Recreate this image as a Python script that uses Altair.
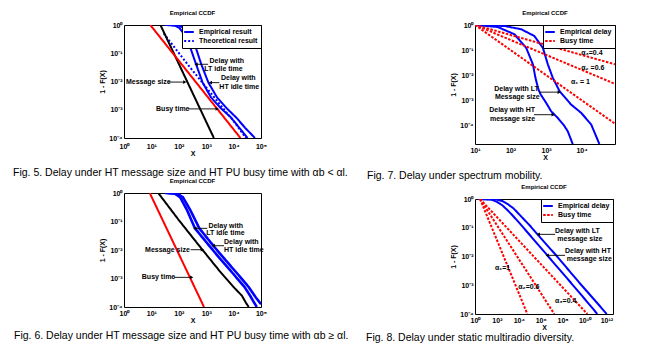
import altair as alt
import pandas as pd

FONT = "Liberation Sans"
BLUE, RED, BLACK = "#0000ff", "#ff0000", "#000000"
SOLID, DOTTED = [1, 0], [2.5, 1.5]

# ---------------- Fig. 5 (values are log10 of X and of 1-F(X)) ----------------
f5_lt_x = [1.50, 1.85, 2.02, 2.25, 2.42, 2.63, 2.87, 3.18, 3.54, 3.91, 4.21, 4.51]
f5_lt_y = [0.0, -0.02, -0.10, -0.40, -0.80, -1.39, -2.04, -2.57, -2.95, -3.28, -3.64, -4.0]
f5_ht_x = [1.65, 2.00, 2.20, 2.45, 2.62, 2.82, 3.08, 3.40, 3.75, 4.10, 4.42, 4.78]
f5_ht_y = [0.0, -0.02, -0.12, -0.45, -0.80, -1.39, -2.04, -2.57, -2.95, -3.28, -3.64, -4.0]
f5_th_x = [1.45, 2.32, 2.81, 3.30, 3.60, 4.00, 4.45]
f5_th_y = [-0.30, -1.39, -1.98, -2.57, -2.93, -3.40, -4.0]
f5_msg_x = [1.33, 3.28]
f5_msg_y = [0.0, -4.0]
f5_busy_x = [0.96, 4.25]
f5_busy_y = [0.0, -4.0]

# ---------------- Fig. 7 ----------------
f7_ht_x = [1.0, 1.64, 2.11, 2.44, 2.63, 2.70, 2.78, 2.85, 3.00, 3.14, 3.33, 3.50, 3.61, 3.75]
f7_ht_y = [0.0, -0.08, -0.37, -0.91, -1.57, -2.10, -2.55, -2.78, -3.10, -3.44, -3.71, -4.0, -4.24, -4.75]
f7_lt_x = [1.0, 1.83, 2.30, 2.67, 2.91, 3.05, 3.19, 3.38, 3.70, 3.99, 4.27, 4.50]
f7_lt_y = [0.0, -0.04, -0.17, -0.44, -0.91, -1.57, -2.11, -2.64, -3.17, -3.51, -3.97, -4.75]
f7_busy_x = [1.0, 4.94]
f7_a04_y = [0.0, -1.57]
f7_a06_y = [0.0, -2.35]
f7_a1_y = [0.0, -3.94]

# ---------------- Fig. 6 ----------------
f6_busy_x = [0.94, 2.92]
f6_busy_y = [0.0, -4.0]
f6_msg_x = [1.25, 2.00, 2.86, 3.50, 4.00, 4.30, 4.45, 4.55]
f6_msg_y = [0.0, -0.95, -1.99, -2.75, -3.30, -3.60, -3.85, -4.0]
f6_lt_x = [1.50, 1.85, 2.05, 2.30, 2.59, 3.00, 3.50, 4.00, 4.40, 4.60, 4.75, 4.85]
f6_lt_y = [0.0, -0.02, -0.15, -0.60, -1.24, -1.72, -2.30, -2.85, -3.30, -3.60, -3.85, -4.0]
f6_ht_x = [1.60, 1.95, 2.15, 2.42, 2.75, 3.26, 3.70, 4.20, 4.55, 4.80, 5.00]
f6_ht_y = [0.0, -0.02, -0.15, -0.60, -1.24, -1.85, -2.35, -2.90, -3.30, -3.65, -3.90]

# ---------------- Fig. 8 ----------------
f8_ht_x = [0.3, 1.5, 2.0, 2.5, 3.0, 3.5, 4.2, 5.02, 6.6, 8.5, 10.0, 11.17]
f8_ht_y = [0.0, -0.02, -0.10, -0.22, -0.40, -0.60, -0.90, -1.26, -1.96, -2.80, -3.47, -4.0]
f8_lt_x = [0.3, 2.0, 2.5, 3.0, 3.5, 4.2, 5.0, 5.78, 7.5, 9.5, 11.0, 12.03]
f8_lt_y = [0.0, -0.02, -0.07, -0.18, -0.32, -0.60, -0.92, -1.26, -2.00, -2.90, -3.55, -4.0]
f8_a1_x = [0.46, 4.78]
f8_a06_x = [0.46, 7.24]
f8_a04_x = [0.46, 10.26]
f8_busy_y = [0.0, -4.0]

SUP = {"0": "⁰", "1": "¹", "2": "²", "3": "³", "4": "⁴", "5": "⁵",
       "6": "⁶", "7": "⁷", "8": "⁸", "9": "⁹", "-": "⁻"}


def tick_label(e):
    return "10" + "".join(SUP[c] for c in str(e))


def p10(vals):
    return [10.0 ** v for v in vals]


def curve_df(xe, ye, cid, series=""):
    return pd.DataFrame({"x": p10(xe), "y": p10(ye), "id": cid,
                         "series": series, "ord": list(range(len(xe)))})


def label_expr(ticks):
    lo, hi = min(ticks), max(ticks)
    arr = ",".join("'" + tick_label(e) + "'" for e in range(lo, hi + 1))
    return "[" + arr + "][round(log(datum.value)/LN10) - (" + str(lo) + ")]"


def make_panel(w, h, xdom, ydom, xt, yt, legend_curves, legend_names, legend_colors,
               legend_dashes, plain_curves, texts, arrows, caption, cap_x, cap_y, xlabpad):
    xs = alt.Scale(type="log", domain=p10(xdom), nice=False)
    ys = alt.Scale(type="log", domain=p10(ydom), nice=False)
    common = dict(labelFont=FONT, labelFontSize=7, labelFontWeight="bold", labelColor=BLACK,
                  titleFont=FONT, titleFontSize=7, titleFontWeight="bold", titleColor=BLACK,
                  ticks=False, tickSize=0, domain=False, grid=False, labelFlush=False,
                  labelOverlap=False)
    xaxis = alt.Axis(values=p10(xt), labelExpr=label_expr(xt), title="X", titlePadding=0,
                     labelPadding=xlabpad, **common)
    yaxis = alt.Axis(values=p10(yt), labelExpr=label_expr(yt), title="1 - F(X)",
                     titlePadding=3, labelPadding=2, **common)

    def X(f="x"):
        return alt.X(f, type="quantitative", scale=xs, axis=xaxis)

    def Y(f="y"):
        return alt.Y(f, type="quantitative", scale=ys, axis=yaxis)

    layers = []
    if legend_curves:
        df = pd.concat([curve_df(*c) for c in legend_curves], ignore_index=True)
        leg = alt.Legend(title=None, orient="top-right", offset=0, strokeColor=BLACK,
                         fillColor="white", padding=3, labelFont=FONT, labelFontSize=7,
                         labelFontWeight="bold", labelColor=BLACK,
                         symbolType="M-1.6,0H1.6", symbolSize=36, symbolStrokeWidth=2,
                         rowPadding=1, labelOffset=6, cornerRadius=0)
        layers.append(
            alt.Chart(df).mark_line(strokeWidth=2, clip=True).encode(
                x=X(), y=Y(),
                color=alt.Color("series:N", scale=alt.Scale(domain=legend_names, range=legend_colors), legend=leg),
                strokeDash=alt.StrokeDash("series:N", scale=alt.Scale(domain=legend_names, range=legend_dashes), legend=leg),
                detail="id:N", order="ord:Q")
        )
    for (xe, ye, cid, col, dash, sw) in plain_curves:
        layers.append(
            alt.Chart(curve_df(xe, ye, cid)).mark_line(strokeWidth=sw, clip=True, color=col,
                                                       strokeDash=dash).encode(
                x=X(), y=Y(), order="ord:Q")
        )
    tdf = pd.DataFrame({"x": p10([t[1] for t in texts]), "y": p10([t[2] for t in texts]),
                        "t": [t[0] for t in texts]})
    layers.append(
        alt.Chart(tdf).mark_text(align="left", baseline="middle", font=FONT, fontSize=7,
                                 fontWeight="bold", color=BLACK).encode(x=X(), y=Y(), text="t:N")
    )
    adf = pd.DataFrame({"x": p10([a[0] for a in arrows]), "xe": p10([a[1] for a in arrows]),
                        "y": p10([a[2] for a in arrows]),
                        "shape": ["triangle-left" if a[1] < a[0] else "triangle-right" for a in arrows]})
    layers.append(
        alt.Chart(adf).mark_rule(color=BLACK, strokeWidth=0.9).encode(x=X(), x2="xe:Q", y=Y())
    )
    layers.append(
        alt.Chart(adf).mark_point(filled=True, size=14, color=BLACK, opacity=1).encode(
            x=X("xe"), y=Y(), shape=alt.Shape("shape:N", scale=None))
    )
    layers.append(
        alt.Chart(pd.DataFrame({"t": [caption]})).mark_text(
            align="left", baseline="middle", font=FONT, fontSize=10.5, color=BLACK).encode(
            text="t:N", x=alt.value(cap_x), y=alt.value(cap_y))
    )
    return alt.layer(*layers).properties(
        width=w, height=h,
        title=alt.TitleParams("Empirical CCDF", font=FONT, fontSize=6, fontWeight="bold",
                              color=BLACK, offset=5, anchor="middle"))


p5 = make_panel(
    137, 113, [0, 5], [-4, 0], [0, 1, 2, 3, 4, 5], [-4, -3, -2, -1, 0],
    [(f5_lt_x, f5_lt_y, "lt", "Empirical result"), (f5_ht_x, f5_ht_y, "ht", "Empirical result"),
     (f5_th_x, f5_th_y, "th", "Theoretical result")],
    ["Empirical result", "Theoretical result"], [BLUE, BLUE], [SOLID, [2, 2]],
    [(f5_msg_x, f5_msg_y, "msg", BLACK, SOLID, 2), (f5_busy_x, f5_busy_y, "busy", RED, SOLID, 2)],
    [("Message size", 0.07, -2.02), ("Busy time", 1.17, -2.97),
     ("Delay with", 3.12, -1.27), ("LT idle time", 2.93, -1.56),
     ("Delay with", 3.54, -1.89), ("HT idle time", 3.48, -2.18)],
    [(1.61, 2.22, -2.02), (2.34, 3.40, -2.97), (3.07, 2.63, -1.39), (3.48, 3.15, -2.04)],
    "Fig. 5. Delay under HT message size and HT PU busy time with αb < αl.", -111, 148, 4)

p6 = make_panel(
    137, 114, [0, 5], [-4, 0], [0, 1, 2, 3, 4, 5], [-4, -3, -2, -1, 0],
    None, None, None, None,
    [(f6_busy_x, f6_busy_y, "busy", RED, SOLID, 2), (f6_msg_x, f6_msg_y, "msg", BLACK, SOLID, 2),
     (f6_lt_x, f6_lt_y, "lt", BLUE, SOLID, 2.6), (f6_ht_x, f6_ht_y, "ht", BLUE, SOLID, 2.6)],
    [("Delay with", 3.08, -1.15), ("LT idle time", 3.0, -1.41),
     ("Delay with", 3.65, -1.71), ("HT idle time", 3.65, -1.99),
     ("Message size", 0.77, -1.99), ("Busy time", 0.65, -2.96)],
    [(3.04, 2.59, -1.24), (3.65, 3.26, -1.85), (2.43, 2.86, -1.99), (1.82, 2.47, -2.96)],
    "Fig. 6. Delay under HT message size and HT PU busy time with αb ≥ αl.", -110, 143, 2)

p7 = make_panel(
    140, 119, [1, 4.94], [-4.75, 0], [1, 2, 3, 4], [-4, -3, -2, -1, 0],
    [(f7_ht_x, f7_ht_y, "ht", "Empirical delay"), (f7_lt_x, f7_lt_y, "lt", "Empirical delay"),
     (f7_busy_x, f7_a04_y, "a04", "Busy time"), (f7_busy_x, f7_a06_y, "a06", "Busy time"),
     (f7_busy_x, f7_a1_y, "a1", "Busy time")],
    ["Empirical delay", "Busy time"], [BLUE, RED], [SOLID, DOTTED],
    [],
    [("α₃=0.4", 3.99, -1.12), ("α₂ =0.6", 3.99, -1.71), ("α₁ = 1", 3.70, -2.28),
     ("Delay with LT", 1.54, -2.57), ("Message size", 1.56, -2.88),
     ("Delay with HT", 1.40, -3.41), ("message size", 1.42, -3.75)],
    [(2.80, 3.37, -2.68), (2.66, 3.20, -3.58)],
    "Fig. 7. Delay under spectrum mobility.", -108, 151, 2)

p8 = make_panel(
    138, 115, [0, 12.6], [-4, 0], [0, 2, 4, 6, 8, 10, 12], [-4, -3, -2, -1, 0],
    [(f8_ht_x, f8_ht_y, "ht", "Empirical delay"), (f8_lt_x, f8_lt_y, "lt", "Empirical delay"),
     (f8_a1_x, f8_busy_y, "a1", "Busy time"), (f8_a06_x, f8_busy_y, "a06", "Busy time"),
     (f8_a04_x, f8_busy_y, "a04", "Busy time")],
    ["Empirical delay", "Busy time"], [BLUE, RED], [SOLID, DOTTED],
    [],
    [("Delay with LT", 7.31, -1.11), ("message size", 7.52, -1.40),
     ("Delay with HT", 8.22, -1.81), ("message size", 8.37, -2.08),
     ("α₁=1", 1.83, -2.39), ("α₂=0.6", 3.95, -3.05), ("α₃=0.4", 7.31, -3.55)],
    [(7.31, 5.78, -1.23), (8.22, 6.60, -1.96)],
    "Fig. 8. Delay under static multiradio diversity.", -109, 139, 2)

res = dict(color="independent", strokeDash="independent", x="independent", y="independent")
left = alt.vconcat(p5, p6, spacing=55, bounds="flush").resolve_scale(**res)
right = alt.vconcat(p7, p8, spacing=55, bounds="flush").resolve_scale(**res)
chart = (
    alt.hconcat(left, right, spacing=351, bounds="flush")
    .resolve_scale(**res)
    .properties(padding={"left": 12, "top": 9, "right": 2, "bottom": 2}, background="white")
    .configure_view(stroke=BLACK, strokeWidth=1)
)

chart.save("out.html", embed_options={"renderer": "svg", "actions": False})
